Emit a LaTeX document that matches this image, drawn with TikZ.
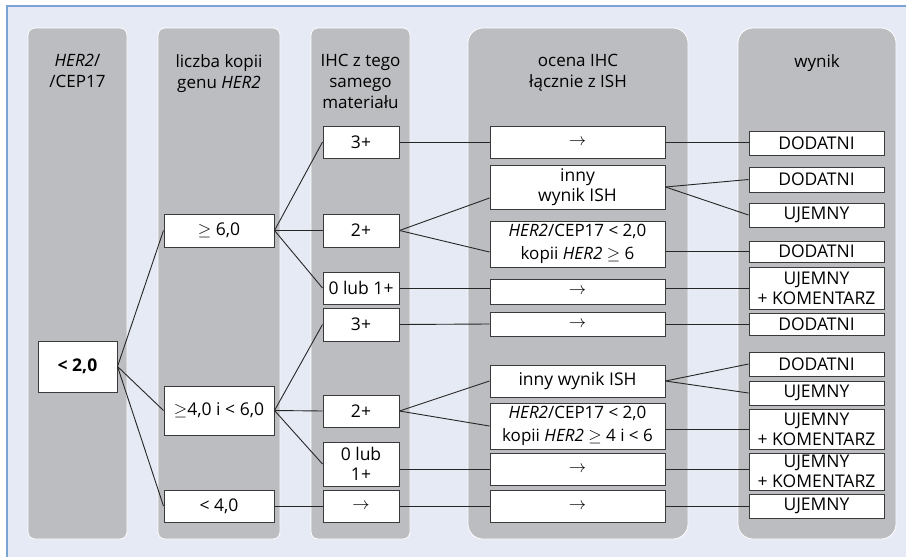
\documentclass[tikz,border=0pt]{standalone}
\usepackage{fontspec}
\setmainfont{Open Sans}
\usepackage{tikz}
\usetikzlibrary{calc}
\definecolor{pagebg}{HTML}{E6EAF5}
\definecolor{frameblue}{HTML}{7BA3D6}
\definecolor{colgrey}{HTML}{BCBDC0}
\definecolor{boxline}{HTML}{3A3A3A}
\tikzset{
  colnarrow/.style={fill=colgrey, draw=white, line width=0.8pt, rounded corners=7pt},
  colwide/.style={fill=colgrey, draw=white, line width=0.8pt, rounded corners=15pt},
  head/.style={anchor=north, inner sep=0pt, align=center, font=\fontsize{17}{21}\selectfont},
  box/.style={draw=boxline, fill=white, line width=1pt, inner sep=0pt, align=center,
    font=\fontsize{17.5}{20}\selectfont},
  ishbox/.style={box, minimum width=175pt, minimum height=46pt, font=\fontsize{17}{22.5}\selectfont},
  link/.style={draw=black!85, line width=0.9pt}
}
\begin{document}
\begin{tikzpicture}[x=1pt, y=-1pt]
  \useasboundingbox (0,0) rectangle (906,557);
  \fill[white] (0,0) rectangle (906,557);
  \fill[pagebg] (7,6) rectangle (906,557);
  \draw[frameblue, line width=1.5pt] (7,557) -- (7,6) -- (906,6);

  \draw[colnarrow] (28,28) rectangle (127,539);
  \draw[colnarrow] (158,28) rectangle (280,539);
  \draw[colnarrow] (311,28) rectangle (410,539);
  \draw[colwide] (468,28) rectangle (688,539);
  \draw[colwide] (738,28) rectangle (896,539);

  \node[head] (HeadRatio) at (77.5,54) {\textit{HER2}/\\/CEP17};
  \node[head] (HeadCopies) at (219,54) {liczba kopii\\genu \textit{HER2}};
  \node[head] (HeadIhc) at (360.5,54) {IHC z tego\\samego\\materiału};
  \node[head] (HeadEval) at (578,54) {ocena IHC\\łącznie z ISH};
  \node[head] (HeadResult) at (817,54) {wynik};

  \node[box, minimum width=79pt, minimum height=51pt, font=\fontsize{17.5}{20}\selectfont\bfseries] (Ratio) at (77.5,366.5) {< 2,0};

  \node[box, minimum width=110pt, minimum height=33pt] (CopiesHigh) at (219,230.5) {$\geq$ 6,0};
  \node[box, minimum width=110pt, minimum height=49pt] (CopiesMid) at (219,410.5) {$\geq$4,0 i < 6,0};
  \node[box, minimum width=110pt, minimum height=32pt] (CopiesLow) at (219,506) {< 4,0};

  \node[box, minimum width=76pt, minimum height=32pt] (IhcA3) at (361,142) {3+};
  \node[box, minimum width=76pt, minimum height=33pt] (IhcA2) at (361,230.5) {2+};
  \node[box, minimum width=76pt, minimum height=32pt] (IhcA01) at (361,288) {0 lub 1+};
  \node[box, minimum width=76pt, minimum height=33pt] (IhcB3) at (361,324.5) {3+};
  \node[box, minimum width=76pt, minimum height=32pt] (IhcB2) at (361,411) {2+};
  \node[box, minimum width=76pt, minimum height=44pt] (IhcB01) at (361,464) {0 lub\\1+};
  \node[box, minimum width=76pt, minimum height=32pt] (IhcC) at (361,506) {$\rightarrow$};

  \node[box, minimum width=175pt, minimum height=32pt] (EvalA3) at (577.5,142) {$\rightarrow$};
  \node[box, minimum width=175pt, minimum height=44pt] (EvalA2other) at (577.5,187) {inny\\wynik ISH};
  \node[ishbox] (EvalA2ish) at (577.5,244) {\textit{HER2}/CEP17 < 2,0\\kopii \textit{HER2} $\geq$ 6};
  \node[box, minimum width=175pt, minimum height=25pt] (EvalA01) at (577.5,291.5) {$\rightarrow$};
  \node[box, minimum width=175pt, minimum height=24pt] (EvalB3) at (577.5,324) {$\rightarrow$};
  \node[box, minimum width=175pt, minimum height=32pt] (EvalB2other) at (577.5,381) {inny wynik ISH};
  \node[ishbox] (EvalB2ish) at (577.5,426) {\textit{HER2}/CEP17 < 2,0\\kopii \textit{HER2} $\geq$ 4 i < 6};
  \node[box, minimum width=175pt, minimum height=32pt] (EvalB01) at (577.5,469) {$\rightarrow$};
  \node[box, minimum width=175pt, minimum height=32pt] (EvalC) at (577.5,506) {$\rightarrow$};

  \node[box, minimum width=135pt, minimum height=24pt] (ResA3) at (816.5,143) {DODATNI};
  \node[box, minimum width=135pt, minimum height=25pt] (ResA2pos) at (816.5,179.5) {DODATNI};
  \node[box, minimum width=135pt, minimum height=24pt] (ResA2neg) at (816.5,215) {UJEMNY};
  \node[box, minimum width=135pt, minimum height=21pt] (ResA2ish) at (816.5,251.5) {DODATNI};
  \node[box, minimum width=135pt, minimum height=42pt] (ResA01) at (816.5,288) {UJEMNY\\+ KOMENTARZ};
  \node[box, minimum width=135pt, minimum height=22pt] (ResB3) at (816.5,324) {DODATNI};
  \node[box, minimum width=135pt, minimum height=24pt] (ResB2pos) at (816.5,364) {DODATNI};
  \node[box, minimum width=135pt, minimum height=24pt] (ResB2neg) at (816.5,393) {UJEMNY};
  \node[box, minimum width=135pt, minimum height=40pt] (ResB2ish) at (816.5,429) {UJEMNY\\+ KOMENTARZ};
  \node[box, minimum width=135pt, minimum height=37pt] (ResB01) at (816.5,471.5) {UJEMNY\\+ KOMENTARZ};
  \node[box, minimum width=135pt, minimum height=24pt] (ResC) at (816.5,506) {UJEMNY};

  \draw[link] (Ratio.east) -- (CopiesHigh.west);
  \draw[link] (Ratio.east) -- (CopiesMid.west);
  \draw[link] (Ratio.east) -- (CopiesLow.west);

  \draw[link] (CopiesHigh.east) -- (IhcA3.west);
  \draw[link] (CopiesHigh.east) -- (IhcA2.west);
  \draw[link] (CopiesHigh.east) -- (IhcA01.west);
  \draw[link] (CopiesMid.east) -- (IhcB3.west);
  \draw[link] (CopiesMid.east) -- (IhcB2.west);
  \draw[link] (CopiesMid.east) -- (IhcB01.west);
  \draw[link] (CopiesLow.east) -- (IhcC.west);

  \draw[link] (IhcA3.east) -- (EvalA3.west);
  \draw[link] (IhcA2.east) -- ([yshift=-11pt]EvalA2other.west);
  \draw[link] (IhcA2.east) -- ([yshift=-8pt]EvalA2ish.west);
  \draw[link] (IhcA01.east) -- (IhcA01.east -| EvalA01.west);
  \draw[link] (IhcB3.east) -- (EvalB3.west);
  \draw[link] (IhcB2.east) -- (EvalB2other.west);
  \draw[link] (IhcB2.east) -- (EvalB2ish.west);
  \draw[link] (EvalB01.west -| IhcB01.east) -- (EvalB01.west);
  \draw[link] (IhcC.east) -- (EvalC.west);

  \draw[link] (EvalA3.east) -- (EvalA3.east -| ResA3.west);
  \draw[link] (EvalA2other.east) -- (ResA2pos.west);
  \draw[link] (EvalA2other.east) -- (ResA2neg.west);
  \draw[link] (ResA2ish.west -| EvalA2ish.east) -- (ResA2ish.west);
  \draw[link] (ResA01.west -| EvalA01.east) -- (ResA01.west);
  \draw[link] (EvalB3.east) -- (ResB3.west);
  \draw[link] (EvalB2other.east) -- (ResB2pos.west);
  \draw[link] (EvalB2other.east) -- (ResB2neg.west);
  \draw[link] (ResB2ish.west -| EvalB2ish.east) -- (ResB2ish.west);
  \draw[link] (EvalB01.east) -- (EvalB01.east -| ResB01.west);
  \draw[link] (EvalC.east) -- (ResC.west);
\end{tikzpicture}
\end{document}
